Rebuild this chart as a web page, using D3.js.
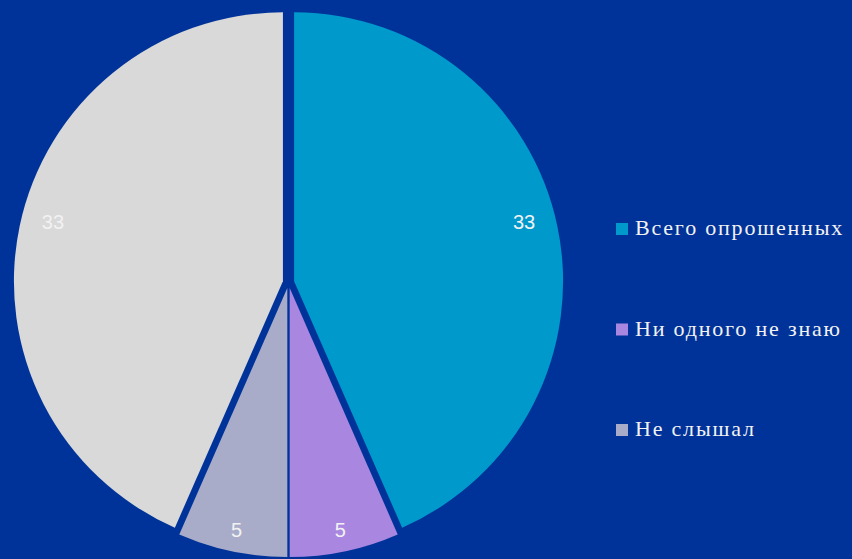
<!DOCTYPE html>
<html>
<head>
<meta charset="utf-8">
<script src="https://cdn.jsdelivr.net/npm/d3@7"></script>
<style>
  html, body { margin: 0; padding: 0; background: #003399; }
  svg { display: block; }
</style>
</head>
<body>
<div id="chart"></div>
<script>
// slices, clockwise from 12 o'clock
const categories = ["Всего опрошенных", "Ни одного не знаю", "Не слышал", ""];
const values = [33, 5, 5, 33];
const colors = ["#0099cc", "#a986e0", "#a8acc9", "#d9d9d9"];
const legendItems = categories.slice(0, 3);

const width = 852, height = 559;
const cx = 288.5, cy = 282.5, radius = 269;
const explode = 5.7;

const svg = d3.select("#chart").append("svg")
    .attr("width", width)
    .attr("height", height);

svg.append("rect")
    .attr("width", width)
    .attr("height", height)
    .attr("fill", "#003399");

const pie = d3.pie().sort(null).value(d => d);
const arc = d3.arc().innerRadius(0).outerRadius(radius);

// wide slices get their label a bit deeper and lifted, like the original
const isWide = d => (d.endAngle - d.startAngle) > 1;
const labelPos = d => {
    const r = isWide(d) ? radius - 34 : radius - 22;
    const c = d3.arc().innerRadius(r).outerRadius(r).centroid(d);
    return [c[0], c[1] + (isWide(d) ? -11 : 0)];
};

const arcs = pie(values);

const g = svg.append("g")
    .attr("transform", `translate(${cx},${cy})`);

const slice = g.selectAll("g.slice")
    .data(arcs)
    .enter().append("g")
    .attr("class", "slice")
    .attr("transform", d => {
        const mid = (d.startAngle + d.endAngle) / 2;
        return `translate(${explode * Math.sin(mid)},${-explode * Math.cos(mid)})`;
    });

slice.append("path")
    .attr("d", arc)
    .attr("fill", (d, i) => colors[i]);

slice.append("text")
    .attr("transform", d => `translate(${labelPos(d)})`)
    .attr("text-anchor", "middle")
    .attr("dy", "0.36em")
    .attr("font-family", "'Liberation Sans', Arial, sans-serif")
    .attr("font-size", 20)
    .attr("fill", "#f2f2f2")
    .text(d => d.data);

const legend = svg.append("g")
    .attr("transform", "translate(616,223)");

const item = legend.selectAll("g.item")
    .data(legendItems)
    .enter().append("g")
    .attr("class", "item")
    .attr("transform", (d, i) => `translate(0,${i * 100.5})`);

item.append("rect")
    .attr("width", 12)
    .attr("height", 12)
    .attr("fill", (d, i) => colors[i]);

const labels = item.append("text")
    .attr("x", 19)
    .attr("y", 12)
    .attr("font-family", "'Liberation Serif', 'Times New Roman', serif")
    .attr("font-size", 22)
    .attr("fill", "#f2f2f2")
    .text(d => d);

// a little extra tracking so the entries are as wide as the original face, but still inside the page
let gap = Infinity;
labels.each(function(d) {
    const room = width - 616 - 19 - 3 - this.getComputedTextLength();
    gap = Math.min(gap, room / (d.length - 1));
});
labels.attr("letter-spacing", Math.max(0, Math.min(gap, 1.8)));
</script>
</body>
</html>
